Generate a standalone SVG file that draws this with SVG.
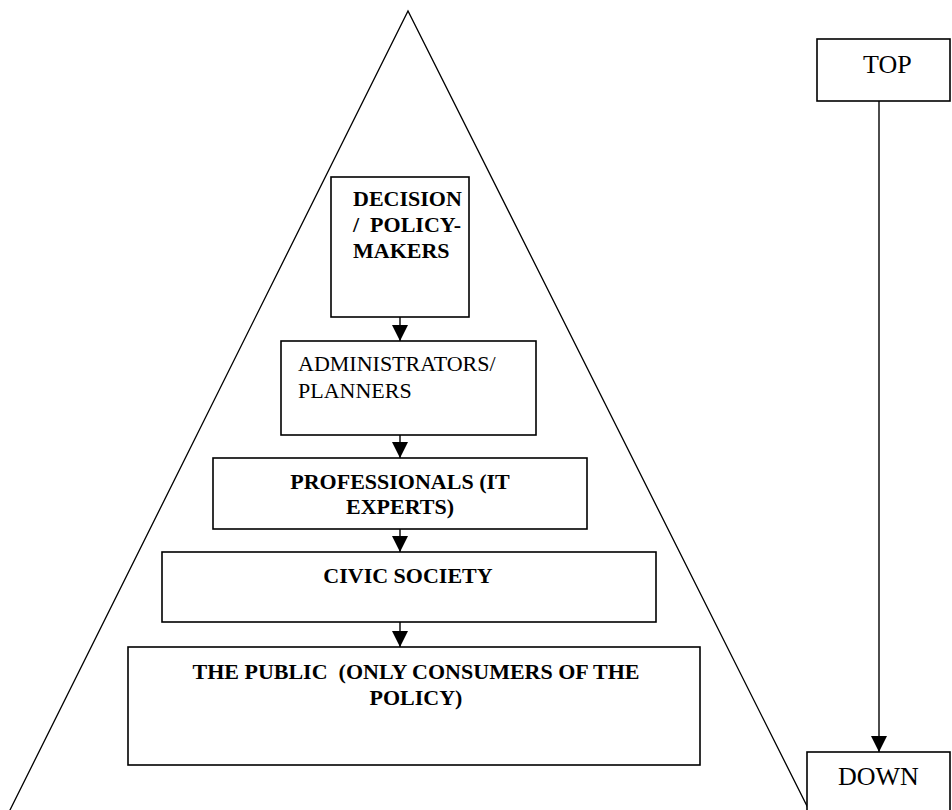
<svg xmlns="http://www.w3.org/2000/svg" width="952" height="810" viewBox="0 0 952 810">
  <defs>
    <marker id="arrow" viewBox="0 0 16 16" refX="16" refY="8" markerWidth="16" markerHeight="16" markerUnits="userSpaceOnUse" orient="auto">
      <path d="M0,0 L16,8 L0,16 Z" fill="#000"/>
    </marker>
    <style>
      .box { fill: #fff; stroke: #000; stroke-width: 1.6; }
      .edge { fill: none; stroke: #000; stroke-width: 1.4; }
      .tri { fill: none; stroke: #000; stroke-width: 1.3; }
      .t { font-family: "Liberation Serif", "Times New Roman", "DejaVu Serif", serif; font-size: 22px; fill: #000; }
      .b { font-weight: bold; }
      .big { font-size: 26px; }
    </style>
  </defs>
  <rect width="952" height="810" fill="#fff"/>

  <!-- hierarchy pyramid -->
  <path class="tri" d="M9,812 L408,11 L810,812"/>

  <g id="decision-makers">
    <rect class="box" x="331" y="177" width="138" height="140"/>
    <text class="t b" x="353" y="206">DECISION</text>
    <text class="t b" x="353" y="232" word-spacing="5.5">/ POLICY-</text>
    <text class="t b" x="353" y="258">MAKERS</text>
  </g>

  <g id="administrators">
    <rect class="box" x="281" y="341" width="255" height="94"/>
    <text class="t" x="298" y="371">ADMINISTRATORS/</text>
    <text class="t" x="298" y="398">PLANNERS</text>
  </g>

  <g id="professionals">
    <rect class="box" x="213" y="458" width="374" height="71"/>
    <text class="t b" x="400" y="489" text-anchor="middle">PROFESSIONALS (IT</text>
    <text class="t b" x="400" y="514" text-anchor="middle">EXPERTS)</text>
  </g>

  <g id="civic-society">
    <rect class="box" x="162" y="552" width="494" height="70"/>
    <text class="t b" x="408" y="583" text-anchor="middle">CIVIC SOCIETY</text>
  </g>

  <g id="public">
    <rect class="box" x="128" y="647" width="572" height="118"/>
    <text class="t b" x="416" y="679" text-anchor="middle" xml:space="preserve">THE PUBLIC  (ONLY CONSUMERS OF THE</text>
    <text class="t b" x="416" y="705" text-anchor="middle">POLICY)</text>
  </g>

  <g id="top">
    <rect class="box" x="817" y="39" width="133" height="62"/>
    <text class="t big" x="863" y="73">TOP</text>
  </g>

  <g id="down">
    <rect class="box" x="807" y="752" width="143" height="70"/>
    <text class="t big" x="838" y="785">DOWN</text>
  </g>

  <g id="connectors">
    <line class="edge" x1="400" y1="317" x2="400" y2="341" marker-end="url(#arrow)"/>
    <line class="edge" x1="400" y1="435" x2="400" y2="458" marker-end="url(#arrow)"/>
    <line class="edge" x1="400" y1="529" x2="400" y2="552" marker-end="url(#arrow)"/>
    <line class="edge" x1="400" y1="622" x2="400" y2="647" marker-end="url(#arrow)"/>
    <line class="edge" x1="879" y1="101" x2="879" y2="752" marker-end="url(#arrow)"/>
  </g>
</svg>
